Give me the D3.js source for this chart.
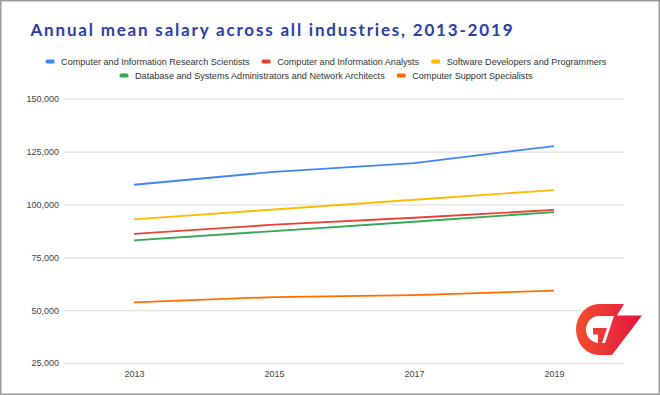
<!DOCTYPE html>
<html>
<head>
<meta charset="utf-8">
<script src="https://cdn.jsdelivr.net/npm/d3@7"></script>
<style>
  html, body { margin: 0; padding: 0; background: #fff; }
  svg { display: block; }
</style>
</head>
<body>
<div id="chart"></div>
<script>
// data
const years = ['2013', '2015', '2017', '2019']
const seriesNames = [
  'Computer and Information Research Scientists',
  'Computer and Information Analysts',
  'Software Developers and Programmers',
  'Database and Systems Administrators and Network Architects',
  'Computer Support Specialists'
]
const researchScientists = [109300, 115400, 119500, 127600]
const infoAnalysts = [86100, 90400, 93700, 97400]
const softwareDevelopers = [92900, 97600, 102200, 106800]
const dbAdmins = [83000, 87400, 91800, 96400]
const supportSpecialists = [53700, 56200, 57100, 59200]
const yTicks = [25000, 50000, 75000, 100000, 125000, 150000]
const colors = ['#4285f4', '#ea4335', '#fbbc04', '#34a853', '#ff6d01']
const legendRows = [[0, 1, 2], [3, 4]]

const series = [researchScientists, infoAnalysts, softwareDevelopers, dbAdmins, supportSpecialists]

const width = 660
const height = 395
const margin = { top: 98.7, right: 36, bottom: 32, left: 64 }

// TABULA RASA
d3.select('#chart').selectAll('*').remove()

const svg = d3.select('#chart')
  .append('svg')
  .attr('width', width)
  .attr('height', height)

// frame
svg.append('rect')
  .attr('x', 0.75)
  .attr('y', 0.75)
  .attr('width', width - 1.5)
  .attr('height', height - 1.5)
  .attr('fill', '#fff')
  .attr('stroke', '#9b9b9b')
  .attr('stroke-width', 1.5)

// scales
const x = d3.scalePoint()
  .domain(years)
  .range([134, 554])

const y = d3.scaleLinear()
  .domain([25000, 150000])
  .range([363, margin.top])

// gridlines + y labels
const yAxis = d3.axisLeft(y)
  .tickValues(yTicks)
  .tickSize(-(width - margin.right - margin.left))
  .tickPadding(5)
  .tickFormat(d3.format(','))

const gy = svg.append('g')
  .attr('transform', `translate(${margin.left},0)`)
  .call(yAxis)
gy.select('.domain').remove()
gy.selectAll('.tick line')
  .attr('stroke', '#e0e0e0')
  .attr('stroke-width', 1.3)
gy.selectAll('.tick text')
  .attr('fill', '#444')
  .attr('font-family', 'Liberation Sans, Arial, sans-serif')
  .attr('font-size', '9px')

// x labels
const xAxis = d3.axisBottom(x).tickSize(0).tickPadding(8)
const gx = svg.append('g')
  .attr('transform', 'translate(0,363)')
  .call(xAxis)
gx.select('.domain').remove()
gx.selectAll('.tick text')
  .attr('fill', '#444')
  .attr('font-family', 'Liberation Sans, Arial, sans-serif')
  .attr('font-size', '9px')

// lines
const line = d3.line()
  .x((d, i) => x(years[i]))
  .y(d => y(d))

svg.append('g')
  .selectAll('path')
  .data(series)
  .enter()
  .append('path')
  .attr('d', d => line(d))
  .attr('fill', 'none')
  .attr('stroke', (d, i) => colors[i])
  .attr('stroke-width', 1.8)
  .attr('stroke-linejoin', 'round')

// title
svg.append('text')
  .attr('x', 30.5)
  .attr('y', 35.7)
  .attr('fill', '#2b3ea8')
  .attr('font-family', 'Lato, Open Sans, sans-serif')
  .attr('font-weight', 'bold')
  .attr('font-size', '17px')
  .attr('textLength', 482)
  .attr('lengthAdjust', 'spacing')
  .text('Annual mean salary across all industries, 2013-2019')

// legend
const legendCenter = 326
const legendY = [61.5, 75.5]
legendRows.forEach((row, r) => {
  const g = svg.append('g')
  let cursor = 0
  row.forEach((idx, k) => {
    g.append('rect')
      .attr('x', cursor)
      .attr('y', legendY[r] - 2)
      .attr('width', 9)
      .attr('height', 4)
      .attr('rx', 1.5)
      .attr('fill', colors[idx])
    const t = g.append('text')
      .attr('x', cursor + 15.5)
      .attr('y', legendY[r] + 3.3)
      .attr('fill', '#333')
      .attr('font-family', 'Liberation Sans, Arial, sans-serif')
      .attr('font-size', '9.1px')
      .text(seriesNames[idx])
    cursor += 15.5 + t.node().getComputedTextLength()
    if (k < row.length - 1) cursor += 12
  })
  g.attr('transform', `translate(${legendCenter - cursor / 2},0)`)
})

// logo
const defs = svg.append('defs')
const grad = defs.append('linearGradient')
  .attr('id', 'logoGrad')
  .attr('gradientUnits', 'userSpaceOnUse')
  .attr('x1', 576).attr('x2', 642)
  .attr('y1', 330).attr('y2', 330)
grad.append('stop').attr('offset', '0%').attr('stop-color', '#f24d2e')
grad.append('stop').attr('offset', '100%').attr('stop-color', '#e3163f')

svg.append('path')
  .attr('fill', 'url(#logoGrad)')
  .attr('fill-rule', 'evenodd')
  .attr('d', 'M599,304 L624,304 L617,315.5 L642,315.5 L612,355 L599,355 A23,25.5 0 0 1 599,304 Z ' +
    'M600,316 L614,316 L605,343 L602,343 L607,328 L593,328 L593,334.5 L598,334.5 L598,343 A13,13.5 0 0 1 600,316 Z')
</script>
</body>
</html>
